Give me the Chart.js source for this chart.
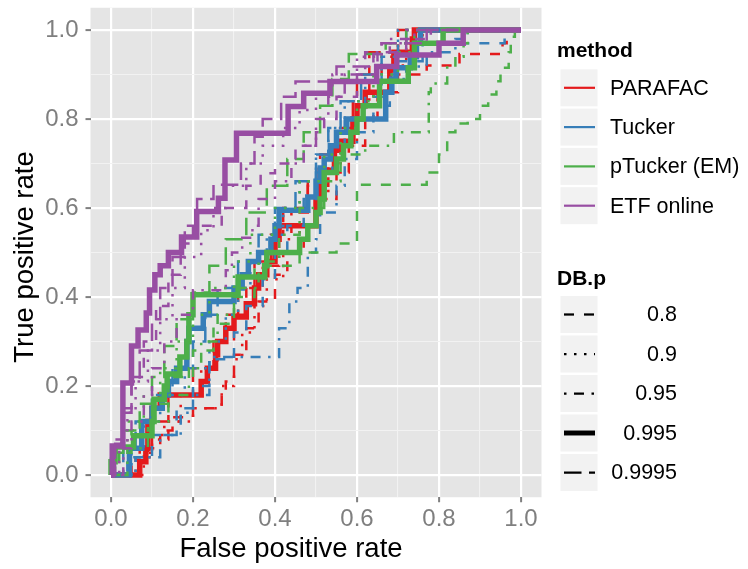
<!DOCTYPE html>
<html>
<head>
<meta charset="utf-8">
<script src="https://cdn.jsdelivr.net/npm/chart.js@4/dist/chart.umd.min.js"></script>
<style>
  html, body { margin: 0; padding: 0; background: #fff; }
  #wrap { width: 748px; height: 569px; }
</style>
</head>
<body>
<div id="wrap"><canvas id="roc" width="748" height="569"></canvas></div>
<script>
// ROC curves per method and DB.p threshold.
// Each curve is a list of [fpr, tpr] corners; the path rises at the previous fpr, then runs right.
const methods = ['PARAFAC', 'Tucker', 'pTucker (EM)', 'ETF online'];
const dbP = ['0.8', '0.9', '0.95', '0.995', '0.9995'];
const tickValues = [0, 0.2, 0.4, 0.6, 0.8, 1.0];

const parafac08 = [[0,0],[0.05,0],[0.09,0.03],[0.12,0.06],[0.15,0.1],[0.2,0.13],[0.27,0.15],[0.28,0.18],[0.3,0.21],[0.33,0.27],[0.36,0.33],[0.4,0.39],[0.43,0.45],[0.47,0.5],[0.5,0.56],[0.55,0.62],[0.58,0.68],[0.62,0.74],[0.65,0.8],[0.7,0.86],[0.77,0.9],[0.85,0.92],[0.955,0.946],[0.965,0.97],[1,1]];
const parafac09 = [[0,0],[0.08,0],[0.1,0.05],[0.13,0.09],[0.2,0.12],[0.27,0.15],[0.3,0.2],[0.32,0.26],[0.35,0.32],[0.38,0.38],[0.42,0.44],[0.46,0.5],[0.5,0.56],[0.53,0.62],[0.56,0.68],[0.6,0.74],[0.64,0.8],[0.68,0.86],[0.72,0.92],[0.76,0.97],[1,1]];
const parafac095 = [[0,0],[0.06,0],[0.1,0.04],[0.14,0.08],[0.17,0.12],[0.22,0.18],[0.26,0.24],[0.3,0.3],[0.33,0.36],[0.37,0.42],[0.41,0.47],[0.44,0.53],[0.48,0.59],[0.53,0.65],[0.57,0.71],[0.6,0.77],[0.63,0.83],[0.66,0.89],[0.7,0.94],[0.74,0.97],[1,1]];
const parafac0995 = [[0,0],[0.07,0],[0.085,0.03],[0.09,0.06],[0.1,0.12],[0.12,0.15],[0.22,0.18],[0.235,0.21],[0.255,0.24],[0.26,0.27],[0.28,0.3],[0.3,0.33],[0.33,0.355],[0.35,0.385],[0.36,0.42],[0.38,0.45],[0.4,0.48],[0.41,0.53],[0.5,0.56],[0.51,0.62],[0.545,0.685],[0.56,0.73],[0.59,0.75],[0.6,0.8],[0.62,0.83],[0.68,0.86],[0.69,0.91],[0.735,0.95],[0.74,0.98],[0.75,1],[1,1]];
const parafac09995 = [[0,0],[0.07,0],[0.1,0.06],[0.14,0.12],[0.2,0.18],[0.25,0.24],[0.28,0.3],[0.31,0.36],[0.35,0.42],[0.39,0.48],[0.42,0.54],[0.48,0.6],[0.51,0.66],[0.55,0.72],[0.59,0.78],[0.6,0.84],[0.63,0.9],[0.7,0.95],[1,1]];

const tucker08 = [[0,0],[0.04,0],[0.1,0.04],[0.16,0.09],[0.2,0.15],[0.24,0.2],[0.3,0.26],[0.33,0.32],[0.37,0.38],[0.4,0.44],[0.43,0.5],[0.47,0.56],[0.5,0.62],[0.54,0.68],[0.57,0.74],[0.62,0.8],[0.66,0.85],[0.7,0.9],[0.76,0.93],[0.96,0.97],[1,1]];
const tucker09 = [[0,0],[0.05,0],[0.08,0.06],[0.12,0.12],[0.18,0.18],[0.24,0.24],[0.28,0.3],[0.31,0.36],[0.34,0.42],[0.38,0.48],[0.42,0.54],[0.46,0.6],[0.5,0.66],[0.53,0.72],[0.57,0.78],[0.62,0.84],[0.66,0.9],[0.7,0.95],[1,1]];
const tucker095 = [[0,0],[0.06,0],[0.12,0.04],[0.17,0.09],[0.2,0.14],[0.24,0.18],[0.41,0.265],[0.435,0.33],[0.455,0.39],[0.48,0.42],[0.5,0.5],[0.51,0.53],[0.55,0.59],[0.57,0.65],[0.6,0.71],[0.64,0.77],[0.68,0.83],[0.72,0.89],[0.77,0.918],[0.84,0.95],[0.87,0.98],[1,1]];
const tucker0995 = [[0,0],[0.045,0],[0.075,0.06],[0.1,0.12],[0.125,0.15],[0.14,0.18],[0.16,0.21],[0.185,0.24],[0.19,0.3],[0.225,0.33],[0.24,0.36],[0.3,0.39],[0.32,0.42],[0.335,0.45],[0.36,0.48],[0.39,0.5],[0.4,0.53],[0.41,0.56],[0.48,0.595],[0.5,0.625],[0.51,0.66],[0.52,0.69],[0.535,0.71],[0.55,0.74],[0.575,0.77],[0.67,0.8],[0.685,0.86],[0.695,0.89],[0.73,0.915],[0.745,0.94],[0.755,0.97],[1,1]];
const tucker09995 = [[0,0],[0.03,0],[0.06,0.06],[0.1,0.12],[0.15,0.18],[0.2,0.24],[0.23,0.3],[0.26,0.36],[0.31,0.42],[0.36,0.48],[0.4,0.54],[0.45,0.6],[0.5,0.66],[0.53,0.72],[0.56,0.78],[0.61,0.84],[0.66,0.9],[0.7,0.94],[0.72,0.97],[1,1]];

const ptucker08 = [[0,0],[0.02,0],[0.05,0.05],[0.1,0.1],[0.14,0.16],[0.2,0.22],[0.25,0.28],[0.3,0.34],[0.35,0.4],[0.46,0.47],[0.55,0.5],[0.6,0.52],[0.77,0.652],[0.8,0.68],[0.82,0.72],[0.84,0.77],[0.87,0.79],[0.9,0.8],[0.92,0.83],[0.94,0.855],[0.95,0.885],[0.97,0.915],[0.975,0.95],[0.985,0.985],[1,1]];
const ptucker09 = [[0,0],[0.01,0],[0.04,0.06],[0.08,0.12],[0.12,0.18],[0.16,0.24],[0.2,0.3],[0.24,0.36],[0.3,0.42],[0.34,0.48],[0.4,0.54],[0.46,0.6],[0.52,0.66],[0.56,0.72],[0.6,0.78],[0.64,0.84],[0.7,0.9],[0.74,0.95],[1,1]];
const ptucker095 = [[0,0],[0.04,0],[0.09,0.06],[0.14,0.12],[0.19,0.18],[0.22,0.24],[0.26,0.3],[0.3,0.36],[0.36,0.42],[0.41,0.48],[0.46,0.54],[0.52,0.6],[0.56,0.66],[0.62,0.72],[0.69,0.74],[0.775,0.77],[0.78,0.86],[0.82,0.88],[0.84,0.92],[0.86,0.94],[0.87,0.97],[1,1]];
const ptucker0995 = [[0,0],[0.01,0.03],[0.055,0.063],[0.1,0.088],[0.105,0.12],[0.13,0.17],[0.137,0.2],[0.168,0.227],[0.185,0.265],[0.19,0.3],[0.2,0.36],[0.31,0.405],[0.375,0.445],[0.38,0.47],[0.46,0.5],[0.48,0.53],[0.5,0.56],[0.51,0.59],[0.52,0.62],[0.55,0.68],[0.567,0.71],[0.585,0.74],[0.6,0.77],[0.615,0.8],[0.655,0.83],[0.725,0.885],[0.74,0.915],[0.81,0.97],[1,1]];
const ptucker09995 = [[0,0],[0.03,0.05],[0.07,0.1],[0.1,0.16],[0.13,0.22],[0.16,0.29],[0.2,0.35],[0.24,0.41],[0.28,0.47],[0.33,0.53],[0.38,0.59],[0.43,0.65],[0.47,0.71],[0.51,0.77],[0.54,0.83],[0.58,0.89],[0.67,0.946],[0.72,0.97],[1,1]];

const etf08 = [[0,0],[0.01,0],[0.03,0.08],[0.05,0.15],[0.08,0.22],[0.11,0.3],[0.14,0.38],[0.17,0.45],[0.2,0.52],[0.27,0.56],[0.33,0.6],[0.365,0.65],[0.4,0.678],[0.45,0.7],[0.5,0.74],[0.52,0.77],[0.55,0.8],[0.6,0.85],[0.65,0.9],[0.72,0.95],[0.78,0.98],[1,1]];
const etf09 = [[0,0],[0.02,0],[0.04,0.07],[0.06,0.14],[0.09,0.21],[0.12,0.28],[0.15,0.35],[0.18,0.42],[0.22,0.49],[0.25,0.55],[0.28,0.6],[0.33,0.65],[0.37,0.7],[0.42,0.74],[0.46,0.78],[0.5,0.82],[0.54,0.86],[0.6,0.9],[0.66,0.94],[0.72,0.97],[1,1]];
const etf095 = [[0,0],[0.03,0],[0.05,0.06],[0.08,0.12],[0.1,0.18],[0.13,0.24],[0.16,0.3],[0.2,0.36],[0.28,0.415],[0.295,0.46],[0.32,0.5],[0.345,0.533],[0.36,0.56],[0.4,0.62],[0.44,0.66],[0.47,0.7],[0.5,0.74],[0.53,0.8],[0.57,0.85],[0.62,0.9],[0.68,0.95],[0.74,0.98],[1,1]];
const etf0995 = [[0,0],[0.003,0],[0.029,0.065],[0.05,0.207],[0.066,0.29],[0.086,0.326],[0.094,0.364],[0.107,0.416],[0.12,0.45],[0.14,0.47],[0.172,0.5],[0.209,0.535],[0.262,0.592],[0.278,0.622],[0.306,0.708],[0.432,0.768],[0.47,0.828],[0.534,0.858],[0.648,0.884],[0.697,0.918],[0.8,0.944],[0.859,0.97],[1,1]];
const etf09995 = [[0,0],[0.01,0],[0.03,0.07],[0.05,0.14],[0.07,0.21],[0.1,0.28],[0.12,0.35],[0.15,0.42],[0.18,0.49],[0.21,0.56],[0.25,0.62],[0.317,0.652],[0.35,0.7],[0.37,0.76],[0.415,0.8],[0.45,0.85],[0.55,0.884],[0.64,0.918],[0.66,0.946],[0.77,0.97],[1,1]];

const rocCurves = [
  [parafac08, parafac09, parafac095, parafac0995, parafac09995],
  [tucker08, tucker09, tucker095, tucker0995, tucker09995],
  [ptucker08, ptucker09, ptucker095, ptucker0995, ptucker09995],
  [etf08, etf09, etf095, etf0995, etf09995]
];

// look
const methodColors = ['#E41A1C', '#377EB8', '#4DAF4A', '#984EA3'];
const lineWidths = [2.5, 2.5, 2.5, 5.5, 2.5];
const dashPatterns = [[10, 10], [2.5, 7.5], [2.5, 7.5, 10, 7.5], [], [17.5, 7.5]];
const FONT = '"Liberation Sans", Arial, Helvetica, sans-serif';

const datasets = [];
methods.forEach((m, mi) => {
  dbP.forEach((p, pi) => {
    datasets.push({
      label: m + ' / ' + p,
      data: rocCurves[mi][pi].map(([x, y]) => ({ x, y })),
      borderColor: methodColors[mi],
      borderWidth: lineWidths[pi],
      borderDash: dashPatterns[pi],
      borderCapStyle: 'butt',
      borderJoinStyle: 'miter',
      stepped: 'after',
      pointRadius: 0,
      fill: false
    });
  });
});
// later entries paint on top
datasets.forEach((d, i) => { d.order = datasets.length - i; });

const isMajor = v => Math.abs(Math.round(v * 10) % 2) === 0;

function axisOptions() {
  return {
    type: 'linear',
    min: -0.05,
    max: 1.05,
    afterBuildTicks: s => {
      s.ticks = [0, 0.1, 0.2, 0.3, 0.4, 0.5, 0.6, 0.7, 0.8, 0.9, 1.0].map(v => ({ value: v }));
    },
    border: { display: false },
    grid: {
      color: c => isMajor(c.tick.value) ? '#FFFFFF' : '#F2F2F2',
      lineWidth: c => isMajor(c.tick.value) ? 2.2 : 1.1,
      tickColor: c => isMajor(c.tick.value) ? '#7F7F7F' : 'rgba(0,0,0,0)',
      tickWidth: 2,
      tickLength: 5,
      drawTicks: true
    },
    ticks: {
      color: '#7F7F7F',
      font: { family: FONT, size: 24 },
      padding: 7,
      autoSkip: false,
      maxRotation: 0,
      callback: v => tickValues.some(t => Math.abs(t - v) < 1e-9) ? v.toFixed(1) : ''
    },
    title: { display: false }
  };
}

// fixed panel box: no extra room reserved for edge labels
const xAxis = axisOptions();
xAxis.ticks.padding = 3;
xAxis.afterFit = s => {
  s.height = 71.75;
  s.paddingLeft = s.paddingRight = s.paddingTop = s.paddingBottom = 0;
};
const yAxis = axisOptions();
yAxis.afterFit = s => {
  s.width = 90.5;
  s.paddingLeft = s.paddingRight = s.paddingTop = s.paddingBottom = 0;
};

// grey panel behind the curves
const panelBackground = {
  id: 'panelBackground',
  beforeDraw(chart) {
    const { ctx, chartArea: a } = chart;
    ctx.save();
    ctx.fillStyle = '#E5E5E5';
    ctx.fillRect(a.left, a.top, a.right - a.left, a.bottom - a.top);
    ctx.restore();
  }
};

// axis titles
const axisTitles = {
  id: 'axisTitles',
  afterDraw(chart) {
    const ctx = chart.ctx;
    ctx.save();
    ctx.fillStyle = '#000';
    ctx.font = '27.5px ' + FONT;
    ctx.textAlign = 'center';
    ctx.textBaseline = 'middle';
    ctx.fillText('False positive rate', 291, 549);
    ctx.translate(25, 257);
    ctx.rotate(-Math.PI / 2);
    ctx.fillText('True positive rate', 0, 0);
    ctx.restore();
  }
};

// two legends on the right: colour for method, line type for DB.p
const sideLegends = {
  id: 'sideLegends',
  afterDraw(chart) {
    const ctx = chart.ctx;
    const keyX = 560.5, keyW = 37, lineX0 = 564, lineX1 = 595;
    ctx.save();
    ctx.textBaseline = 'middle';

    ctx.fillStyle = '#000';
    ctx.font = 'bold 21px ' + FONT;
    ctx.textAlign = 'left';
    ctx.fillText('method', 557, 51);
    methods.forEach((m, i) => {
      const top = 69.3 + i * 39.3;
      ctx.fillStyle = '#F2F2F2';
      ctx.fillRect(keyX, top, keyW, keyW);
      ctx.strokeStyle = methodColors[i];
      ctx.lineWidth = 2.2;
      ctx.setLineDash([]);
      ctx.beginPath();
      ctx.moveTo(lineX0, top + keyW / 2);
      ctx.lineTo(lineX1, top + keyW / 2);
      ctx.stroke();
      ctx.fillStyle = '#000';
      ctx.font = '21.5px ' + FONT;
      ctx.fillText(m, 610, top + keyW / 2 + 1);
    });

    ctx.font = 'bold 21px ' + FONT;
    ctx.fillStyle = '#000';
    ctx.fillText('DB.p', 557, 279);
    dbP.forEach((p, i) => {
      const top = 296 + i * 39.5;
      ctx.fillStyle = '#F2F2F2';
      ctx.fillRect(keyX, top, keyW, keyW);
      ctx.strokeStyle = '#000';
      ctx.lineWidth = lineWidths[i] * 0.9;
      ctx.lineCap = 'butt';
      ctx.setLineDash(dashPatterns[i]);
      ctx.beginPath();
      ctx.moveTo(lineX0, top + keyW / 2);
      ctx.lineTo(lineX1, top + keyW / 2);
      ctx.stroke();
      ctx.setLineDash([]);
      ctx.fillStyle = '#000';
      ctx.font = '21.5px ' + FONT;
      ctx.textAlign = 'right';
      ctx.fillText(p, 677, top + keyW / 2 + 1);
      ctx.textAlign = 'left';
    });
    ctx.restore();
  }
};

new Chart(document.getElementById('roc'), {
  type: 'line',
  data: { datasets },
  options: {
    responsive: false,
    animation: false,
    devicePixelRatio: 1,
    layout: { padding: { left: 0, top: 7.75, right: 206.5, bottom: 0 } },
    scales: { x: xAxis, y: yAxis },
    plugins: {
      legend: { display: false },
      tooltip: { enabled: false }
    }
  },
  plugins: [panelBackground, axisTitles, sideLegends]
});
</script>
</body>
</html>
